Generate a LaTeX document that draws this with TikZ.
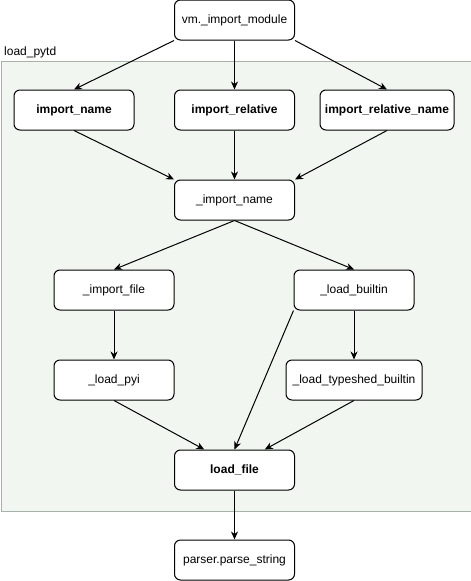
\documentclass[tikz,border=0pt]{standalone}
\usepackage{fontspec}
\setmainfont{Liberation Sans}
\usetikzlibrary{arrows.meta,calc}

\definecolor{pytdfill}{RGB}{241,247,240}
\definecolor{pytdline}{RGB}{168,178,168}

\tikzset{
  fn/.style={draw, rounded corners=6pt, fill=white, line width=1pt,
    minimum width=120pt, minimum height=40pt, inner sep=2pt},
  api/.style={fn, font=\fontsize{12}{14}\selectfont\bfseries},
  call/.style={-{Stealth[length=8pt,width=7pt,inset=2.5pt]}, line width=1pt},
}

\begin{document}
\begin{tikzpicture}[x=1pt, y=-1pt, font=\fontsize{12}{14}\selectfont]
\useasboundingbox (0,0) rectangle (471,581);

% load_pytd group
\node[draw=pytdline, fill=pytdfill, line width=1pt, inner sep=0,
  minimum width=470pt, minimum height=450pt, anchor=north west] (pytd) at (0.5,60.5) {};
\node[anchor=base west, inner sep=0] (pytdname) at (4,55) {load\_pytd};

% boxes
\node[fn] (vm) at (234.5,20) {vm.\_import\_module};
\node[api] (iname) at (74,110) {import\_name};
\node[api] (irel) at (234.5,110) {import\_relative};
\node[api, minimum width=134pt] (irelname) at (387,110) {import\_relative\_name};
\node[fn] (priv) at (234.5,200) {\_import\_name};
\node[fn] (ifile) at (114,290) {\_import\_file};
\node[fn] (builtin) at (354,290) {\_load\_builtin};
\node[fn] (pyi) at (114,380) {\_load\_pyi};
\node[fn, minimum width=136pt] (typeshed) at (354,380) {\_load\_typeshed\_builtin};
\node[api] (lfile) at (234.5,470) {load\_file};
\node[fn] (parse) at (234.5,560) {parser.parse\_string};

% calls
\draw[call] (vm.south west) -- (iname.north);
\draw[call] (vm) -- (irel);
\draw[call] (vm.south east) -- (irelname.north);
\draw[call] (iname.south) -- (priv.north west);
\draw[call] (irel) -- (priv);
\draw[call] (irelname.south) -- (priv.north east);
\draw[call] (priv.south) -- (ifile.north);
\draw[call] (priv.south) -- (builtin.north);
\draw[call] (ifile) -- (pyi);
\draw[call] (builtin.south west) -- (lfile.north);
\draw[call] (builtin) -- (typeshed);
\draw[call] (pyi.south) -- ($(lfile.north west)!0.25!(lfile.north east)$);
\draw[call] (typeshed.south) -- ($(lfile.north west)!0.75!(lfile.north east)$);
\draw[call] (lfile) -- (parse);
\end{tikzpicture}
\end{document}
